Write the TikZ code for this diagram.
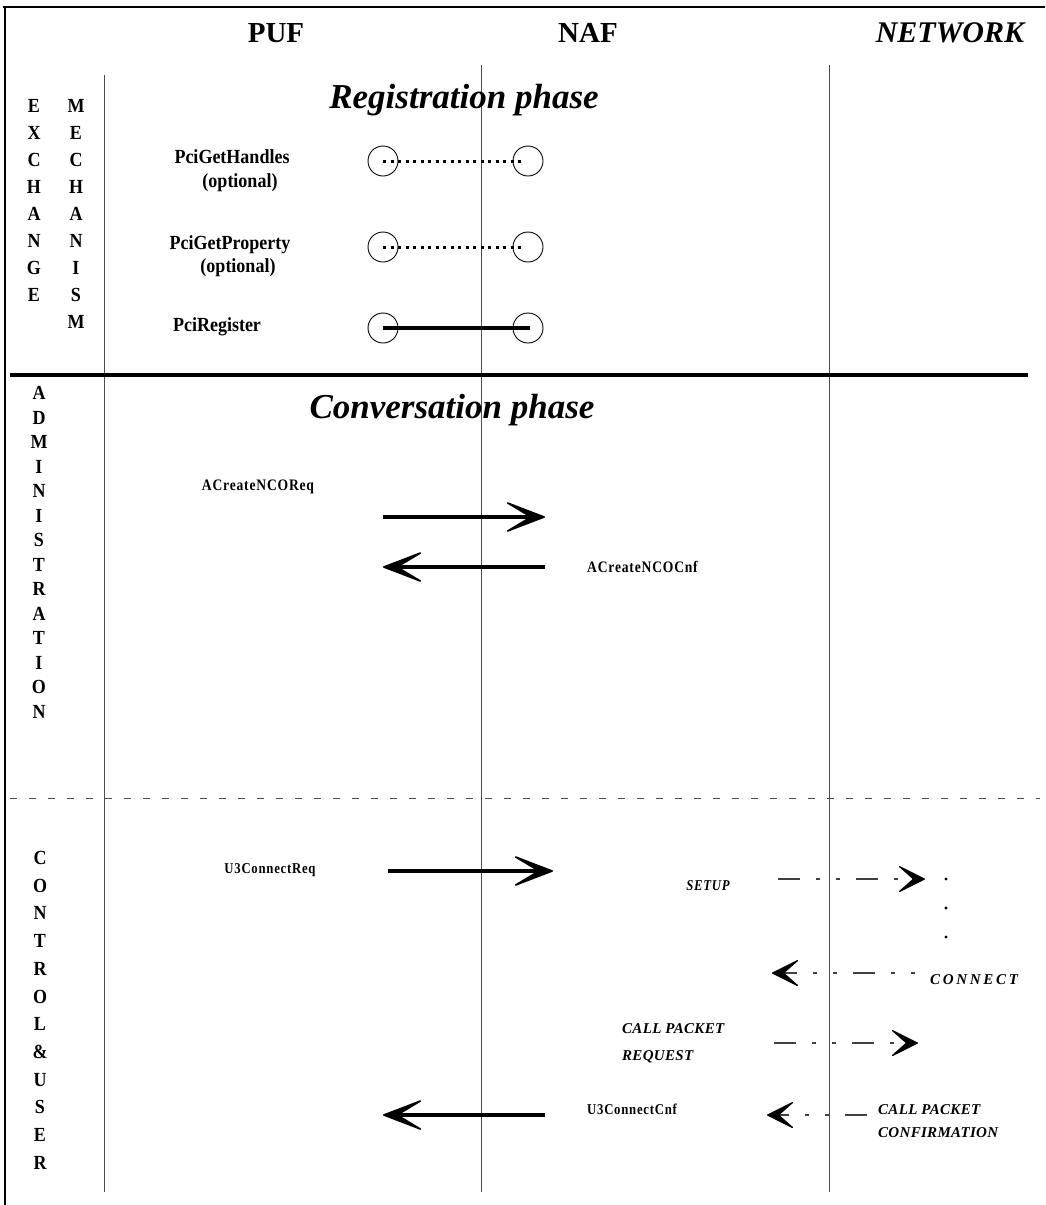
\documentclass[tikz,border=0pt]{standalone}
\usepackage{fontspec}
\setmainfont{Liberation Serif}
\newfontfamily\condfont{Liberation Serif}[FakeStretch=0.9]
\newfontfamily\labelfont{Liberation Serif}[FakeStretch=0.85,LetterSpace=5]
\newfontfamily\netfont{Liberation Serif}[LetterSpace=2]
\newfontfamily\widenetfont{Liberation Serif}[LetterSpace=18]
\usetikzlibrary{arrows.meta}
\begin{document}
\begin{tikzpicture}[x=1pt,y=-1pt,
  frameline/.style={line width=2.6pt},
  lifeline/.style={line width=0.9pt,black!70},
  header/.style={font=\fontsize{29}{31}\selectfont\bfseries,inner sep=0pt},
  netheader/.style={font=\fontsize{30}{32}\selectfont\bfseries\itshape,inner sep=0pt},
  phase/.style={font=\fontsize{35}{40}\selectfont\bfseries\itshape,inner sep=0pt},
  letter/.style={font=\condfont\fontsize{20}{24}\selectfont\bfseries,inner sep=0pt},
  prim/.style={font=\condfont\fontsize{20}{24}\selectfont\bfseries,inner sep=0pt},
  msg/.style={font=\labelfont\fontsize{16}{18}\selectfont\bfseries,inner sep=0pt},
  smallmsg/.style={font=\labelfont\fontsize{15}{18}\selectfont\bfseries,inner sep=0pt},
  netmsg/.style={font=\netfont\fontsize{15}{27}\selectfont\bfseries\itshape,inner sep=0pt,align=left},
  port/.style={circle,draw,line width=0.9pt,minimum size=30pt,inner sep=0pt},
  optline/.style={line width=3pt,dash pattern=on 3pt off 4.5pt},
  regline/.style={line width=3.6pt},
  bigarrow/.style={line width=4pt,-{Stealth[length=47pt 0 0,width=36pt 0 0,inset=30pt 0,line width=1.6pt,round]}},
  netarrow/.style={line width=1.1pt,black!75,-{Stealth[length=30pt 0 0,width=30pt 0 0,inset=17pt 0,line width=1.2pt,round,color=black]}},
  longfirst/.style={dash pattern=on 22pt off 16pt on 4pt off 16pt on 4pt off 16pt},
  shortfirst/.style={dash pattern=on 4pt off 16pt on 4pt off 16pt on 22pt off 16pt},
  netdot/.style={circle,fill,minimum size=3.2pt,inner sep=0pt}
]
\useasboundingbox (0,0) rectangle (1045,1205);

% outer frame (top and left edges)
\coordinate (frameTL) at (5,7);
\coordinate (frameTR) at (1045,7);
\coordinate (frameBL) at (5,1205);
\draw[frameline] (3,7) -- (frameTR);
\draw[frameline] (frameTL) -- (frameBL);

% column headers
\node[header] (puf) at (276,33) {PUF};
\node[header] (naf) at (588,33) {NAF};
\node[netheader] (net) at (950,33) {NETWORK};

% lifelines
\coordinate (pufTop) at (104,75);  \coordinate (pufBot) at (104,1192);
\coordinate (nafTop) at (481,65);  \coordinate (nafBot) at (481,1192);
\coordinate (netTop) at (829,65);  \coordinate (netBot) at (829,1192);
\draw[lifeline] (pufTop) -- (pufBot);
\draw[lifeline] (nafTop) -- (nafBot);
\draw[lifeline] (netTop) -- (netBot);

% section separators
\coordinate (sepA) at (10,375);  \coordinate (sepB) at (1028,375);
\draw[line width=4.5pt] (sepA) -- (sepB);
\coordinate (sepC) at (10,798);  \coordinate (sepD) at (1040,798);
\draw[line width=0.8pt,black!70,dash pattern=on 7pt off 12pt] (sepC) -- (sepD);

% vertical section titles
\foreach \l [count=\i from 0] in {E,X,C,H,A,N,G,E}
  \node[letter] (exch\i) at (34,106+27*\i) {\l};
\foreach \l [count=\i from 0] in {M,E,C,H,A,N,I,S,M}
  \node[letter] (mech\i) at (76,106+27*\i) {\l};
\foreach \l [count=\i from 0] in {A,D,M,I,N,I,S,T,R,A,T,I,O,N}
  \node[letter] (adm\i) at (39,393+24.5*\i) {\l};
\foreach \l [count=\i from 0] in {C,O,N,T,R,O,L,\&,U,S,E,R}
  \node[letter] (ctl\i) at (40,858+27.7*\i) {\l};

% registration phase
\node[phase] (regtitle) at (464,100) {Registration phase};

\node[prim] (gh) at (232,157) {PciGetHandles};
\node[prim] (ghopt) at (240,183) {(optional)};
\node[port] (gh1) at (383,161) {};
\node[port] (gh2) at (528,161) {};
\draw[optline] (gh1.center) -- ([xshift=-5pt]gh2.center);

\node[prim] (gp) at (230,245) {PciGetProperty};
\node[prim] (gpopt) at (238,268) {(optional)};
\node[port] (gp1) at (383,247) {};
\node[port] (gp2) at (528,247) {};
\draw[optline] (gp1.center) -- ([xshift=-5pt]gp2.center);

\node[prim] (rg) at (217,327) {PciRegister};
\node[port] (rg1) at (383,328) {};
\node[port] (rg2) at (528,328) {};
\draw[regline] (rg1.center) -- ([xshift=2pt]rg2.center);

% conversation phase
\node[phase] (convtitle) at (452,410) {Conversation phase};

\node[msg] (acreq) at (258,487) {ACreateNCOReq};
\coordinate (acreqA) at (383,517); \coordinate (acreqB) at (545,517);
\draw[bigarrow] (acreqA) -- (acreqB);

\node[msg,anchor=west] (accnf) at (587,567) {ACreateNCOCnf};
\coordinate (accnfA) at (545,567); \coordinate (accnfB) at (383,567);
\draw[bigarrow] (accnfA) -- (accnfB);

% connection set-up
\node[smallmsg] (u3req) at (270,870) {U3ConnectReq};
\coordinate (u3reqA) at (388,871); \coordinate (u3reqB) at (553,871);
\draw[bigarrow] (u3reqA) -- (u3reqB);

\node[netmsg,font=\labelfont\fontsize{15}{18}\selectfont\bfseries\itshape] (setup) at (708,886) {SETUP};
\coordinate (setupA) at (778,879); \coordinate (setupB) at (925,879);
\draw[netarrow,longfirst] (setupA) -- (setupB);

\node[netdot] (dot1) at (946,879) {};
\node[netdot] (dot2) at (946,908) {};
\node[netdot] (dot3) at (946,937) {};

\node[netmsg,anchor=west,font=\widenetfont\fontsize{15}{18}\selectfont\bfseries\itshape] (connect) at (930,980) {CONNECT};
\coordinate (connA) at (915,973); \coordinate (connB) at (772,973);
\draw[netarrow,shortfirst] (connA) -- (connB);

\node[netmsg,anchor=north west] (cpreq) at (622,1023) {CALL PACKET\\REQUEST};
\coordinate (cpreqA) at (774,1043); \coordinate (cpreqB) at (918,1043);
\draw[netarrow,longfirst] (cpreqA) -- (cpreqB);

\node[smallmsg,anchor=west] (u3cnf) at (587,1109) {U3ConnectCnf};
\coordinate (u3cnfA) at (545,1115); \coordinate (u3cnfB) at (383,1115);
\draw[bigarrow] (u3cnfA) -- (u3cnfB);

\node[netmsg,anchor=north west,font=\netfont\fontsize{15}{23.5}\selectfont\bfseries\itshape] (cpcnf) at (878,1104) {CALL PACKET\\CONFIRMATION};
\coordinate (cpcnfA) at (867,1115); \coordinate (cpcnfB) at (767,1115);
\draw[netarrow,longfirst] (cpcnfA) -- (cpcnfB);

\end{tikzpicture}
\end{document}
